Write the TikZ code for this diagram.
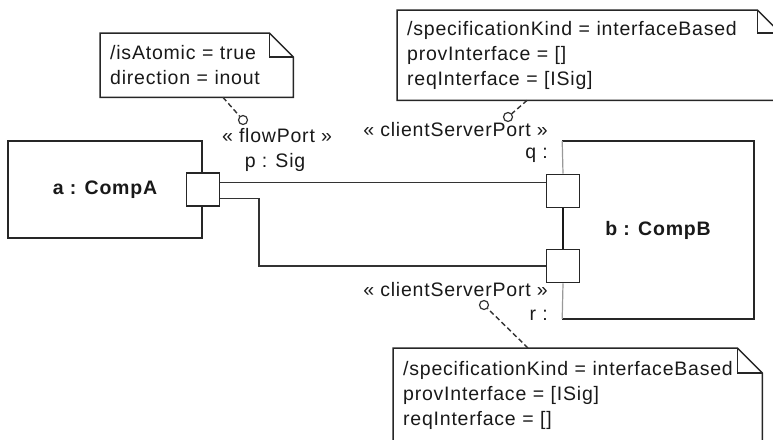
\documentclass[tikz,border=0pt]{standalone}
\usepackage{fontspec}
\setmainfont[LetterSpace=4]{Liberation Sans}
\usetikzlibrary{arrows.meta,positioning}

% outline of a note with a folded corner, drawn round a named node
\newcommand{\notebox}[2]{%
  \draw[noteline] (#1.north west) -- ([xshift=-#2]#1.north east)
    -- ([yshift=-#2]#1.north east) -- (#1.south east) -- (#1.south west) -- cycle;
  \draw[noteline] ([xshift=-#2]#1.north east) |- ([yshift=-#2]#1.north east);}

\begin{document}
\begin{tikzpicture}[x=1pt,y=-1pt,
    font=\fontsize{19.5}{25}\selectfont,
    part/.style={draw=black!85, line width=1.6pt, text=black!90,
      font=\fontsize{19.5}{25}\selectfont\bfseries},
    port/.style={draw=black!85, line width=1.6pt, fill=white, minimum size=33pt, inner sep=0pt},
    conn/.style={draw=black!80, line width=1.3pt},
    note/.style={anchor=north west, align=left, inner xsep=10pt, inner ysep=0pt, text=black!90},
    noteline/.style={draw=black!85, line width=1.5pt},
    ring/.style={circle, draw=black!80, line width=1.2pt, minimum size=9pt, inner sep=0pt},
    tether/.style={draw=black!80, line width=1.4pt, dash pattern=on 5pt off 3pt},
    lbl/.style={inner sep=0pt, text=black!90},
  ]
  \useasboundingbox (0,0) rectangle (773,439);
  \clip (0,0) rectangle (773,439);

  % parts
  \node[part, minimum width=194pt, minimum height=97pt] (compA) at (105,189.5) {a : CompA};
  \node[part, draw=none, minimum width=190pt, minimum height=176pt] (compB) at (658,230) {b : CompB};
  \draw[black!85, line width=1.6pt] (compB.north west) -- (compB.north east)
    -- (compB.south east) -- (compB.south west);

  % ports
  \node[port] (p) at (compA.east) {};
  \node[port] (q) at (563,191) {};
  \node[port] (r) at (563,266) {};
  \draw[black!40, line width=1.2pt] (compB.north west) -- (q.north);
  \draw[black!40, line width=1.2pt] (r.south) -- (compB.south west);

  % connectors
  \draw[conn] ([yshift=7pt]p.east) -- ([yshift=7pt]p.east -| q.west);
  \draw[conn] ([yshift=-9pt]p.east) -- ++(39,0) |- (r.west);
  \draw[conn, black!90, line width=1.6pt] (q.south) -- (r.north);

  % port labels
  \node[lbl] (fpst) at (277,136) {« flowPort »};
  \node[lbl] (pname) at (275,162) {p : Sig};
  \node[lbl, anchor=east] (qst) at (548,130) {« clientServerPort »};
  \node[lbl, anchor=east] (qname) at (548,155) {q :};
  \node[lbl, anchor=east] (rst) at (548,290) {« clientServerPort »};
  \node[lbl, anchor=east] (rname) at (548,315) {r :};

  % notes
  \node[note, text width=173pt, minimum height=64pt] (n1) at (100,33)
    {/isAtomic = true\\direction = inout};
  \notebox{n1}{24pt}
  \node[note, text width=363pt, minimum height=90pt] (n2) at (397,10)
    {/specificationKind = interfaceBased\\provInterface = []\\reqInterface = [ISig]};
  \notebox{n2}{23pt}
  \node[note, text width=349pt, minimum height=94pt] (n3) at (393,348)
    {/specificationKind = interfaceBased\\provInterface = [ISig]\\reqInterface = []};
  \notebox{n3}{25pt}

  % note anchors
  \node[ring] (a1) at (243,120) {};
  \node[ring] (a2) at (508,117) {};
  \node[ring] (a3) at (484,305) {};
  \draw[tether] (n1.south west) ++(123,0) -- (a1);
  \draw[tether] (n2.south west) ++(130,0) -- (a2);
  \draw[tether] (n3.north west) ++(135,0) -- (a3);
\end{tikzpicture}
\end{document}
